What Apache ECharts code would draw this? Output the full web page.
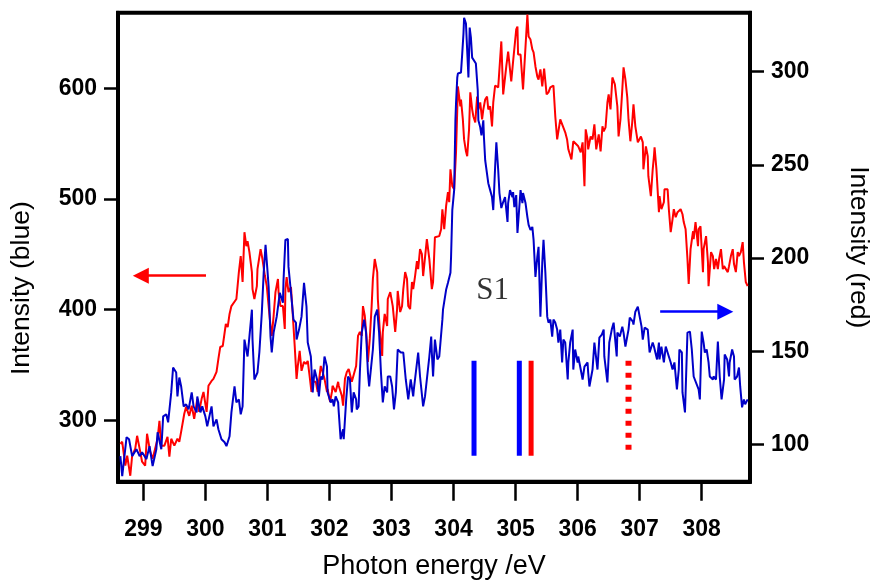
<!DOCTYPE html>
<html>
<head>
<meta charset="utf-8">
<script src="https://cdn.jsdelivr.net/npm/echarts@6/dist/echarts.min.js"></script>
<style>
  html, body { margin: 0; padding: 0; background: #fff; }
  #chart { width: 873px; height: 586px; }
</style>
</head>
<body>
<div id="chart"></div>
<script>
// tick labels
const energyTicks = [299, 300, 301, 302, 303, 304, 305, 306, 307, 308]
const blueTicks = [300, 400, 500, 600]
const redTicks = [100, 150, 200, 250, 300]

// blue spectrum (left axis)
const blueEnergy = [
  298.63, 298.66, 298.73, 298.77, 298.82, 298.89, 298.94, 298.98, 299.05, 299.10,
  299.15, 299.21, 299.23, 299.29, 299.32, 299.37, 299.40, 299.45, 299.48, 299.53,
  299.55, 299.58, 299.61, 299.65, 299.69, 299.73, 299.78, 299.81, 299.86, 299.87,
  299.92, 299.95, 300.00, 300.03, 300.10, 300.13, 300.18, 300.21, 300.26, 300.31,
  300.34, 300.39, 300.42, 300.47, 300.50, 300.54, 300.57, 300.60, 300.63, 300.68,
  300.71, 300.75, 300.76, 300.79, 300.84, 300.87, 300.91, 300.94, 300.97, 301.00,
  301.02, 301.05, 301.07, 301.10, 301.15, 301.20, 301.25, 301.26, 301.29, 301.33,
  301.34, 301.38, 301.42, 301.46, 301.47, 301.51, 301.55, 301.59, 301.60, 301.63,
  301.65, 301.70, 301.73, 301.76, 301.80, 301.83, 301.86, 301.89, 301.92, 301.96,
  301.97, 302.02, 302.05, 302.07, 302.10, 302.14, 302.15, 302.18, 302.22, 302.23,
  302.27, 302.30, 302.33, 302.36, 302.39, 302.43, 302.44, 302.47, 302.49, 302.52,
  302.54, 302.56, 302.59, 302.62, 302.64, 302.70, 302.73, 302.77, 302.80, 302.83,
  302.86, 302.89, 302.93, 302.94, 302.98, 303.01, 303.04, 303.07, 303.10, 303.15,
  303.19, 303.23, 303.27, 303.31, 303.35, 303.36, 303.43, 303.46, 303.51, 303.54,
  303.57, 303.61, 303.64, 303.65, 303.67, 303.70, 303.74, 303.77, 303.82, 303.83,
  303.88, 303.91, 303.95, 303.96, 303.98, 304.01, 304.03, 304.04, 304.06, 304.07,
  304.12, 304.14, 304.16, 304.17, 304.20, 304.22, 304.24, 304.25, 304.26, 304.28,
  304.30, 304.33, 304.36, 304.39, 304.40, 304.43, 304.45, 304.48, 304.49, 304.51,
  304.54, 304.56, 304.59, 304.62, 304.64, 304.67, 304.69, 304.72, 304.74, 304.77,
  304.80, 304.83, 304.87, 304.88, 304.91, 304.95, 304.96, 304.98, 305.01, 305.03,
  305.06, 305.08, 305.11, 305.12, 305.16, 305.19, 305.21, 305.24, 305.27, 305.29,
  305.32, 305.35, 305.37, 305.40, 305.43, 305.45, 305.48, 305.51, 305.53, 305.56,
  305.59, 305.61, 305.64, 305.67, 305.69, 305.72, 305.75, 305.77, 305.80, 305.84,
  305.85, 305.88, 305.92, 305.93, 305.96, 306.00, 306.01, 306.05, 306.08, 306.11,
  306.16, 306.17, 306.19, 306.21, 306.24, 306.27, 306.32, 306.35, 306.39, 306.42,
  306.43, 306.48, 306.51, 306.55, 306.58, 306.63, 306.64, 306.68, 306.72, 306.74,
  306.77, 306.82, 306.84, 306.89, 306.90, 306.93, 306.97, 307.00, 307.03, 307.05,
  307.08, 307.13, 307.16, 307.21, 307.23, 307.28, 307.31, 307.32, 307.35, 307.39,
  307.42, 307.47, 307.50, 307.53, 307.56, 307.60, 307.63, 307.64, 307.68, 307.69,
  307.73, 307.77, 307.81, 307.84, 307.87, 307.90, 307.95, 307.97, 308.00, 308.03,
  308.05, 308.08, 308.11, 308.13, 308.18, 308.19, 308.23, 308.26, 308.29, 308.32,
  308.36, 308.37, 308.41, 308.44, 308.45, 308.49, 308.52, 308.53, 308.57, 308.60,
  308.62, 308.65, 308.68, 308.70, 308.74,
]
const blueIntensity = [
  267.6, 249.5, 284.7, 282.9, 267.6, 273.9, 267.6, 271.2, 264.9, 276.6,
  258.6, 273.9, 289.2, 273.9, 303.6, 305.4, 298.2, 325.2, 347.7, 343.2,
  321.6, 338.7, 330.6, 312.6, 314.4, 309.9, 325.2, 312.6, 307.2, 321.6,
  307.2, 312.6, 303.6, 294.6, 312.6, 294.6, 300.9, 291.9, 282.9, 280.2,
  276.6, 285.6, 307.2, 330.6, 316.2, 318.9, 305.4, 312.6, 373.0, 357.7,
  375.7, 400.0, 373.0, 336.9, 343.2, 361.3, 397.3, 433.3, 458.6, 436.0,
  420.7, 375.7, 361.3, 379.3, 393.7, 415.3, 406.3, 427.0, 463.1, 464.0,
  438.7, 415.3, 391.0, 388.3, 373.0, 382.0, 393.7, 424.3, 425.2, 402.7,
  370.3, 357.7, 325.2, 345.9, 336.9, 321.6, 339.6, 336.9, 357.7, 348.6,
  325.2, 316.2, 318.9, 312.6, 321.6, 316.2, 307.2, 282.9, 291.9, 282.9,
  318.9, 339.6, 336.9, 307.2, 325.2, 318.9, 309.9, 312.6, 343.2, 379.3,
  379.3, 391.0, 379.3, 343.2, 330.6, 364.0, 393.7, 400.0, 379.3, 343.2,
  316.2, 330.6, 325.2, 339.6, 339.6, 330.6, 309.9, 325.2, 364.0, 361.3,
  361.3, 336.9, 318.9, 336.9, 321.6, 327.9, 361.3, 339.6, 312.6, 321.6,
  321.6, 357.7, 375.7, 361.3, 339.6, 373.0, 355.0, 357.7, 391.0, 400.0,
  418.0, 424.3, 433.3, 447.7, 490.1, 508.1, 571.2, 586.5, 609.9, 613.5,
  614.4, 631.5, 649.6, 664.0, 658.6, 634.2, 609.9, 609.0, 655.0, 645.9,
  627.9, 627.0, 622.5, 598.2, 571.2, 564.9, 557.7, 571.2, 555.9, 535.1,
  533.3, 514.4, 508.1, 501.8, 490.1, 528.8, 551.4, 526.1, 505.4, 491.9,
  497.3, 501.8, 479.3, 496.4, 508.1, 501.8, 506.3, 492.8, 503.6, 469.4,
  492.8, 508.1, 496.4, 505.4, 496.4, 483.8, 476.6, 472.1, 474.8, 463.1,
  429.7, 447.7, 456.8, 393.7, 442.3, 463.1, 433.3, 393.7, 388.3, 391.0,
  375.7, 391.0, 388.3, 382.0, 370.3, 382.0, 352.3, 373.0, 370.3, 336.9,
  352.3, 370.3, 382.0, 345.9, 364.0, 352.3, 357.7, 345.9, 336.9, 348.6,
  352.3, 343.2, 330.6, 329.7, 345.9, 370.3, 345.9, 374.8, 377.5, 382.0,
  357.7, 334.2, 370.3, 382.0, 388.3, 357.7, 379.3, 375.7, 384.7, 379.3,
  366.7, 382.0, 392.8, 389.2, 386.5, 398.2, 402.7, 402.7, 384.7, 373.0,
  383.8, 382.0, 361.3, 370.3, 366.7, 355.0, 370.3, 355.0, 366.7, 352.3,
  366.7, 357.7, 352.3, 345.9, 352.3, 327.9, 345.9, 364.0, 361.3, 325.2,
  307.2, 379.3, 380.2, 364.0, 339.6, 339.6, 327.9, 318.9, 380.2, 370.3,
  361.3, 364.0, 352.3, 339.6, 336.9, 339.6, 336.9, 371.2, 339.6, 318.9,
  336.9, 359.5, 355.0, 339.6, 352.3, 364.0, 357.7, 336.9, 339.6, 347.7,
  330.6, 311.7, 318.9, 314.4, 318.9,
]

// red spectrum (right axis)
const redEnergy = [
  298.63, 298.66, 298.71, 298.74, 298.79, 298.82, 298.87, 298.90, 298.95, 298.98,
  299.03, 299.06, 299.11, 299.15, 299.19, 299.23, 299.26, 299.29, 299.34, 299.39,
  299.42, 299.45, 299.50, 299.55, 299.58, 299.61, 299.66, 299.69, 299.74, 299.78,
  299.82, 299.87, 299.90, 299.94, 299.97, 300.02, 300.05, 300.10, 300.13, 300.18,
  300.21, 300.24, 300.28, 300.33, 300.36, 300.39, 300.42, 300.45, 300.50, 300.54,
  300.57, 300.60, 300.63, 300.66, 300.68, 300.71, 300.75, 300.76, 300.79, 300.83,
  300.84, 300.89, 300.92, 300.96, 300.99, 301.02, 301.05, 301.07, 301.10, 301.13,
  301.17, 301.18, 301.21, 301.25, 301.28, 301.29, 301.31, 301.34, 301.38, 301.41,
  301.44, 301.47, 301.49, 301.52, 301.55, 301.59, 301.62, 301.65, 301.68, 301.71,
  301.73, 301.78, 301.81, 301.86, 301.89, 301.92, 301.96, 301.97, 302.01, 302.04,
  302.05, 302.10, 302.14, 302.15, 302.20, 302.22, 302.25, 302.28, 302.31, 302.36,
  302.39, 302.43, 302.46, 302.49, 302.52, 302.54, 302.57, 302.60, 302.62, 302.65,
  302.68, 302.70, 302.73, 302.77, 302.78, 302.81, 302.85, 302.86, 302.89, 302.93,
  302.94, 302.98, 303.01, 303.02, 303.06, 303.09, 303.10, 303.14, 303.17, 303.19,
  303.22, 303.25, 303.27, 303.30, 303.33, 303.35, 303.38, 303.41, 303.43, 303.46,
  303.49, 303.51, 303.54, 303.57, 303.61, 303.65, 303.67, 303.70, 303.73, 303.77,
  303.80, 303.82, 303.85, 303.88, 303.91, 303.93, 303.95, 303.98, 304.01, 304.04,
  304.06, 304.07, 304.11, 304.12, 304.15, 304.17, 304.20, 304.22, 304.25, 304.27,
  304.30, 304.32, 304.35, 304.38, 304.40, 304.43, 304.46, 304.48, 304.51, 304.54,
  304.56, 304.59, 304.62, 304.64, 304.67, 304.72, 304.77, 304.80, 304.85, 304.88,
  304.93, 304.96, 305.01, 305.03, 305.04, 305.08, 305.12, 305.19, 305.21, 305.24,
  305.27, 305.29, 305.32, 305.35, 305.37, 305.40, 305.43, 305.46, 305.50, 305.53,
  305.56, 305.61, 305.64, 305.67, 305.69, 305.72, 305.75, 305.80, 305.83, 305.85,
  305.90, 305.93, 305.96, 306.01, 306.05, 306.08, 306.11, 306.13, 306.16, 306.17,
  306.21, 306.24, 306.27, 306.30, 306.34, 306.37, 306.40, 306.42, 306.45, 306.48,
  306.50, 306.53, 306.56, 306.60, 306.64, 306.66, 306.69, 306.72, 306.74, 306.77,
  306.80, 306.82, 306.85, 306.88, 306.90, 306.93, 306.97, 306.98, 307.02, 307.05,
  307.06, 307.10, 307.13, 307.14, 307.18, 307.21, 307.23, 307.24, 307.27, 307.31,
  307.32, 307.35, 307.39, 307.40, 307.45, 307.47, 307.50, 307.53, 307.55, 307.58,
  307.61, 307.63, 307.66, 307.69, 307.71, 307.74, 307.77, 307.79, 307.82, 307.86,
  307.87, 307.90, 307.94, 307.95, 307.98, 308.02, 308.03, 308.07, 308.10, 308.11,
  308.15, 308.18, 308.20, 308.23, 308.26, 308.28, 308.31, 308.34, 308.36, 308.39,
  308.42, 308.44, 308.47, 308.50, 308.52, 308.55, 308.58, 308.60, 308.63, 308.66,
  308.68, 308.71, 308.74,
]
const redIntensity = [
  100.5, 101.6, 88.8, 94.1, 83.4, 94.1, 97.9, 104.8, 96.3, 90.9,
  88.8, 105.9, 96.3, 92.5, 97.9, 103.2, 112.8, 99.5, 99.5, 104.3,
  93.6, 103.2, 99.5, 103.2, 101.6, 107.0, 116.6, 120.3, 115.5, 120.9,
  113.9, 124.6, 117.6, 124.6, 128.3, 117.6, 131.6, 134.2, 135.3, 139.0,
  146.0, 152.4, 152.9, 164.7, 163.1, 170.1, 174.3, 174.3, 178.1, 192.5,
  201.1, 187.2, 213.9, 206.4, 209.1, 203.2, 192.5, 183.4, 178.1, 185.0,
  194.1, 204.8, 199.5, 190.4, 185.0, 174.3, 163.6, 158.3, 169.0, 181.8,
  188.8, 181.8, 174.3, 174.3, 162.0, 183.4, 189.8, 181.8, 184.5, 169.0,
  152.9, 135.3, 142.2, 150.3, 139.6, 144.4, 143.3, 144.9, 136.9, 128.3,
  133.7, 133.7, 128.3, 142.2, 139.0, 135.3, 128.3, 129.9, 123.0, 128.3,
  131.6, 128.3, 133.7, 131.6, 126.2, 120.9, 135.3, 139.0, 140.6, 133.7,
  133.7, 142.2, 158.3, 160.4, 158.3, 174.3, 169.0, 156.7, 144.4, 156.7,
  174.3, 188.8, 199.5, 192.5, 178.1, 162.0, 147.6, 160.4, 170.1, 163.6,
  178.1, 181.8, 182.4, 174.3, 160.4, 172.7, 182.4, 171.1, 174.3, 183.4,
  192.5, 188.8, 174.3, 172.7, 187.2, 183.4, 190.4, 198.4, 194.1, 204.8,
  202.1, 190.4, 191.4, 210.2, 199.5, 183.4, 187.2, 211.2, 210.2, 211.8,
  215.5, 226.2, 215.5, 227.8, 235.3, 230.0, 247.6, 238.5, 236.9, 256.7,
  279.7, 292.0, 281.3, 285.0, 274.3, 263.6, 257.2, 254.6, 269.0, 288.8,
  279.7, 275.9, 272.7, 286.6, 279.7, 283.4, 274.3, 279.7, 285.0, 286.6,
  279.7, 281.3, 270.6, 283.4, 292.5, 291.5, 316.1, 287.7, 302.7, 310.7,
  294.7, 305.4, 322.5, 324.1, 309.1, 309.1, 290.4, 330.5, 318.7, 317.1,
  311.8, 310.2, 302.7, 297.3, 295.7, 301.1, 292.0, 301.6, 287.7, 288.8,
  291.5, 292.5, 275.9, 263.6, 263.6, 274.3, 274.3, 267.4, 263.6, 258.3,
  252.9, 262.6, 261.9, 259.9, 256.7, 262.0, 238.5, 269.0, 263.6, 258.3,
  265.2, 263.6, 271.7, 258.3, 266.3, 257.2, 270.6, 267.9, 270.1, 283.4,
  287.7, 279.7, 296.8, 293.1, 281.3, 265.2, 274.3, 290.4, 302.2, 295.7,
  286.1, 274.3, 262.6, 272.7, 282.4, 270.6, 262.0, 262.6, 265.2, 262.0,
  247.6, 259.9, 254.6, 243.9, 233.2, 247.6, 254.6, 259.4, 247.6, 224.6,
  233.2, 226.2, 230.0, 236.9, 236.9, 226.2, 213.9, 220.9, 226.2, 221.9,
  224.6, 225.1, 226.2, 223.5, 219.3, 215.5, 199.5, 186.1, 204.8, 214.4,
  210.2, 219.3, 206.4, 215.5, 217.1, 192.5, 204.8, 211.8, 197.9, 185.0,
  203.2, 201.1, 194.1, 199.5, 194.1, 199.5, 204.8, 194.1, 195.7, 195.7,
  192.5, 195.7, 201.1, 204.8, 196.8, 192.5, 203.2, 201.1, 203.2, 208.6,
  197.9, 187.2, 185.0,
]

// transition sticks, in left-axis units
const stickEnergy = [304.33, 305.06, 305.25, 306.82]
const stickTop = [353.8, 353.8, 353.8, 353.8]
const stickBottom = [267.9, 267.9, 267.9, 273.3]

// arrows: [startEnergy, endEnergy, intensity] on left axis
const redArrow = [300.01, 298.96, 430.8]
const blueArrow = [307.33, 308.38, 398.2]
const labelS1 = { text: 'S1', energy: 304.63, intensity: 417.2 }

const SANS = "'Liberation Sans', Arial, sans-serif"
const NARROW = "'Liberation Sans Narrow', 'Liberation Sans', Arial, sans-serif"
const STICK_STYLES = [
  { color: '#0000ff', type: 'solid' },
  { color: '#0000ff', type: 'solid' },
  { color: '#ff0000', type: 'solid' },
  { color: '#ff0000', type: [5, 7] },
]

const zip = (xs, ys) => xs.map((x, i) => [x, ys[i]])

function arrowLine(arrow, color) {
  return [
    { coord: [arrow[0], arrow[2]], lineStyle: { color, width: 2.5, type: 'solid' } },
    { coord: [arrow[1], arrow[2]] },
  ]
}

function yAxis(ticks, opts) {
  return {
    type: 'value',
    axisLine: { show: true, lineStyle: { color: '#000', width: 4 } },
    axisTick: { show: true, customValues: ticks, length: 14, lineStyle: { color: '#000', width: 2.5 } },
    axisLabel: { customValues: ticks, margin: 21, color: '#000', fontSize: 23, fontWeight: 'bold', fontFamily: NARROW },
    splitLine: { show: false },
    nameLocation: 'middle',
    ...opts,
  }
}

function buildOption() {
  const sticks = stickEnergy.map((e, i) => ({
    type: 'line',
    yAxisIndex: 0,
    symbol: 'none',
    silent: true,
    z: 4,
    lineStyle: { width: i === 3 ? 6 : 5, color: STICK_STYLES[i].color, type: STICK_STYLES[i].type, cap: 'butt' },
    data: [[e, stickTop[i]], [e, stickBottom[i]]],
  }))

  return {
    animation: false,
    backgroundColor: '#fff',
    grid: {
      left: 118, right: 123, top: 12.7, bottom: 104.3,
      containLabel: false,
      outerBoundsMode: 'none',
      show: true, borderColor: '#000', borderWidth: 4,
    },
    xAxis: {
      type: 'value',
      min: 298.592,
      max: 308.778,
      axisLine: { show: true, lineStyle: { color: '#000', width: 4 } },
      axisTick: { show: true, customValues: energyTicks, length: 19, lineStyle: { color: '#000', width: 2.5 } },
      axisLabel: { customValues: energyTicks, margin: 36, color: '#000', fontSize: 23, fontWeight: 'bold', fontFamily: NARROW },
      splitLine: { show: false },
      name: 'Photon energy /eV',
      nameLocation: 'middle',
      nameGap: 71,
      nameTextStyle: { color: '#000', fontSize: 27, fontFamily: SANS },
    },
    yAxis: [
      yAxis(blueTicks, {
        min: 244.5, max: 668.5, position: 'left', name: 'Intensity (blue)', nameGap: 83,
        // shifted down along the axis, as in the source figure
        nameTextStyle: { color: '#000', fontSize: 26.5, fontFamily: SANS, padding: [0, 82, 0, 0] },
      }),
      yAxis(redTicks, {
        min: 80.2, max: 331.5, position: 'right', name: 'Intensity (red)', nameGap: 95, nameRotate: -90,
        nameTextStyle: { color: '#000', fontSize: 26.5, fontFamily: SANS },
      }),
    ],
    series: [
      {
        name: 'red',
        type: 'line',
        yAxisIndex: 1,
        symbol: 'none',
        z: 2,
        lineStyle: { color: '#ff0000', width: 2 },
        data: zip(redEnergy, redIntensity),
      },
      {
        name: 'blue',
        type: 'line',
        yAxisIndex: 0,
        symbol: 'none',
        z: 3,
        lineStyle: { color: '#0000c8', width: 2 },
        data: zip(blueEnergy, blueIntensity),
        markLine: {
          silent: true,
          symbol: ['none', 'triangle'],
          symbolSize: 16,
          label: { show: false },
          data: [arrowLine(redArrow, '#ff0000'), arrowLine(blueArrow, '#0000ff')],
        },
      },
      ...sticks,
      {
        type: 'scatter',
        yAxisIndex: 0,
        symbolSize: 1,
        itemStyle: { color: 'transparent' },
        silent: true,
        label: {
          show: true,
          position: 'inside',
          formatter: labelS1.text,
          color: '#000',
          fontSize: 31,
          fontFamily: "'Liberation Serif', 'Times New Roman', serif",
        },
        data: [[labelS1.energy, labelS1.intensity]],
      },
    ],
  }
}

const chart = echarts.init(document.getElementById('chart'))
chart.setOption(buildOption())
</script>
</body>
</html>
